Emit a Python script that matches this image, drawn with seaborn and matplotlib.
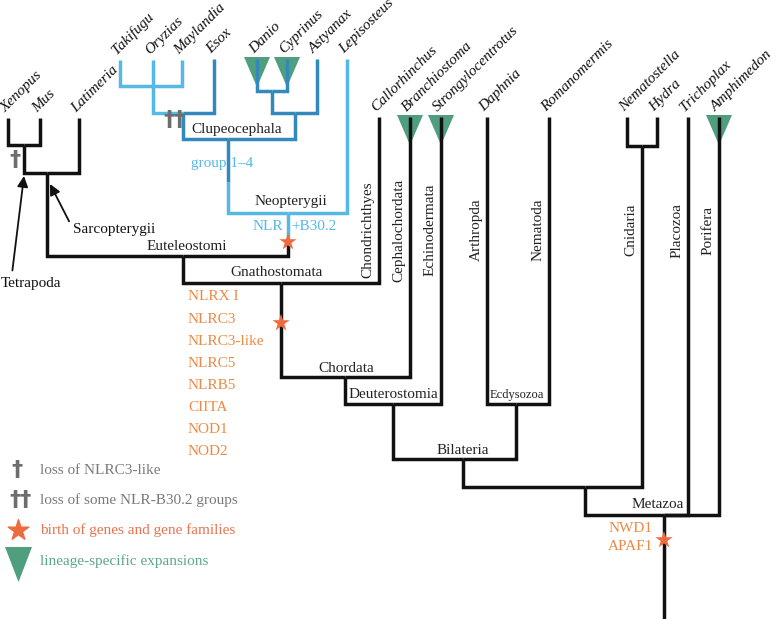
import pandas as pd
import seaborn as sns
import matplotlib.pyplot as plt

sns.set_theme(style="white")
plt.rcParams["font.family"] = ["Liberation Serif", "DejaVu Sans"]

# ------------------------------------------------------------------
# tree: node name, column (x), depth (y, pixels from the top), parent
# ------------------------------------------------------------------
node_name = ["root", "Metazoa", "Eumetazoa", "Trichoplax", "Amphimedon",
             "Bilateria", "Cnidaria", "Nematostella", "Hydra",
             "Deuterostomia", "Ecdysozoa", "Daphnia", "Romanomermis",
             "Chordata", "Strongylocentrotus", "Gnathostomata", "Branchiostoma",
             "Euteleostomi", "Callorhinchus", "Sarcopterygii", "Tetrapoda",
             "Xenopus", "Mus", "Latimeria",
             "NLR-B30.2", "Neopterygii", "Lepisosteus", "group 1-4", "Clupeocephala",
             "Euteleostei", "Esox", "Acanthomorpha", "Takifugu", "Oryzias", "Maylandia",
             "Otomorpha", "Cyprinidae", "Danio", "Cyprinus", "Astyanax"]
node_x = [664, 664, 585, 688, 719,
          463, 642, 627, 657,
          393, 516, 487, 549,
          345, 441, 281, 410,
          183, 379, 47, 24,
          8, 40, 79,
          288, 288, 347, 228, 228,
          183, 214, 153, 120, 153, 182,
          295, 272, 257, 287, 317]
node_y = [619, 515, 487, 117, 117,
          459, 146, 117, 117,
          404, 404, 117, 117,
          377, 117, 283, 117,
          256, 117, 173, 145,
          118, 118, 118,
          240, 213, 59, 182, 139,
          113, 59, 86, 60, 60, 60,
          113, 91, 59, 59, 59]
node_parent = [None, "root", "Metazoa", "Metazoa", "Metazoa",
               "Eumetazoa", "Eumetazoa", "Cnidaria", "Cnidaria",
               "Bilateria", "Bilateria", "Ecdysozoa", "Ecdysozoa",
               "Deuterostomia", "Deuterostomia", "Chordata", "Chordata",
               "Gnathostomata", "Gnathostomata", "Euteleostomi", "Sarcopterygii",
               "Tetrapoda", "Tetrapoda", "Sarcopterygii",
               "Euteleostomi", "NLR-B30.2", "Neopterygii", "Neopterygii", "group 1-4",
               "Clupeocephala", "Euteleostei", "Euteleostei", "Acanthomorpha",
               "Acanthomorpha", "Acanthomorpha",
               "Clupeocephala", "Otomorpha", "Cyprinidae", "Cyprinidae", "Otomorpha"]
node_lineage = ["other"] * 25 + ["neo", "neo", "neo", "clupeo",
                                 "clupeo", "clupeo", "neo", "neo", "neo", "neo",
                                 "clupeo", "clupeo", "clupeo", "clupeo", "clupeo"]

# clades named on their node (horizontal) and on their branch (vertical)
node_labels = ["Clupeocephala", "Neopterygii", "Euteleostomi", "Gnathostomata",
               "Chordata", "Deuterostomia", "Ecdysozoa", "Bilateria", "Metazoa"]
branch_label_node = ["Callorhinchus", "Branchiostoma", "Strongylocentrotus", "Daphnia",
                     "Romanomermis", "Cnidaria", "Trichoplax", "Amphimedon"]
branch_label_text = ["Chondrichthyes", "Cephalochordata", "Echinodermata", "Arthropda",
                     "Nematoda", "Cnidaria", "Placozoa", "Porifera"]

# events on branches
expansion_tips = ["Danio", "Cyprinus", "Branchiostoma", "Strongylocentrotus", "Amphimedon"]
birth_branch = ["Neopterygii", "Gnathostomata", "Metazoa"]
birth_depth = [242, 323, 540]
gnathostome_genes = ["NLRX I", "NLRC3", "NLRC3-like", "NLRC5", "NLRB5", "CIITA", "NOD1", "NOD2"]
metazoan_genes = ["NWD1", "APAF1"]
loss_branch = ["Tetrapoda", "Euteleostei"]
loss_depth = [160, 120]
loss_symbol = ["\u2020", "\u2020\u2020"]

legend_items = ["loss of NLRC3-like", "loss of some NLR-B30.2 groups",
                "birth of genes and gene families", "lineage-specific expansions"]

# colours
BLACK = "#111111"
LIGHT = "#55b8e6"
DARK = "#3389bb"
GREEN = "#4f9f7e"
ORANGE = "#ec8a45"
STAR = "#ee6a3f"
GREY = "#6d6d6d"

nodes = pd.DataFrame({"name": node_name, "x": node_x, "y": node_y,
                      "parent": node_parent, "lineage": node_lineage}).set_index("name")

# elbow edges child -> parent
rows = []
for i, (name, n) in enumerate(nodes.iterrows()):
    if n.parent is None:
        continue
    p = nodes.loc[n.parent]
    for k, (ex, ey) in enumerate([(n.x, n.y), (n.x, p.y), (p.x, p.y)]):
        rows.append({"edge": i, "k": k, "x": ex, "y": ey, "lineage": n.lineage})
edges = pd.DataFrame(rows)

fig = plt.figure(figsize=(7.8, 6.19), dpi=100)
ax = fig.add_axes([0, 0, 1, 1])

sns.lineplot(data=edges, x="x", y="y", hue="lineage", units="edge", estimator=None,
             sort=False, hue_order=["other", "neo", "clupeo"],
             palette={"other": BLACK, "neo": LIGHT, "clupeo": DARK},
             lw=2.5, legend=False, ax=ax, zorder=2,
             solid_joinstyle="miter", solid_capstyle="butt")

# lineage-specific expansions
for t in expansion_tips:
    n = nodes.loc[t]
    ax.fill([n.x - 13, n.x + 13, n.x], [n.y - 2, n.y - 2, n.y + 28],
            color=GREEN, lw=0, zorder=1)

# tip names
is_parent = set(nodes.parent.dropna())
for name, n in nodes.iterrows():
    if name in is_parent:
        continue
    ax.text(n.x - 3, n.y - 5, name, rotation=45, rotation_mode="anchor",
            ha="left", va="baseline", style="italic", fontsize=11, color=BLACK)

# clade names on nodes
label_offset = {"Clupeocephala": (9, -9), "Neopterygii": (3, -11), "Euteleostomi": (4, -10),
                "Gnathostomata": (-4, -10), "Chordata": (1, -9), "Deuterostomia": (0, -10),
                "Ecdysozoa": (1, -9), "Bilateria": (0, -9), "Metazoa": (-6, -10)}
for c in node_labels:
    n = nodes.loc[c]
    dx, dy = label_offset[c]
    ax.text(n.x + dx, n.y + dy, c, ha="center", va="center",
            fontsize=9 if c == "Ecdysozoa" else 11, color="#222222")

# clade names along branches
for nd, txt in zip(branch_label_node, branch_label_text):
    n = nodes.loc[nd]
    ax.text(n.x - 11, 230, txt, rotation=90, ha="center", va="center",
            fontsize=11, color="#222222")

# births of genes
bx = [nodes.loc[b].x for b in birth_branch]
sns.scatterplot(x=bx, y=birth_depth, marker="*", s=170, color=STAR,
                edgecolor="none", ax=ax, zorder=4)
for i, gene in enumerate(gnathostome_genes):
    ax.text(188, 297 + i * 22.1, gene, ha="left", va="center", fontsize=11, color=ORANGE)
m = nodes.loc["Metazoa"]
for i, gene in enumerate(metazoan_genes):
    ax.text(m.x - 11, 529 + i * 17, gene, ha="right", va="center", fontsize=11, color=ORANGE)
nb = nodes.loc["Neopterygii"]
ax.text(nb.x - 5, 227, "NLR", ha="right", va="center", fontsize=11, color=LIGHT)
ax.text(nb.x + 3, 227, "+B30.2", ha="left", va="center", fontsize=11, color=LIGHT)
ax.text(222, 163, "group 1\u20134", ha="center", va="center", fontsize=11, color=LIGHT)

# losses
for b, d, s in zip(loss_branch, loss_depth, loss_symbol):
    n = nodes.loc[b]
    ax.text(n.x - 9, d, s, ha="center", va="center", fontsize=16,
            fontweight="bold", color=GREY, family="DejaVu Sans")

# arrows
t = nodes.loc["Tetrapoda"]
ax.annotate("Tetrapoda", xy=(t.x, t.y + 31), xytext=(31, 283), ha="center", va="center",
            fontsize=11, color=BLACK,
            arrowprops=dict(arrowstyle="-|>", color=BLACK, lw=1.3, relpos=(0.18, 1.0),
                            shrinkA=2, shrinkB=0, mutation_scale=16))
s = nodes.loc["Sarcopterygii"]
ax.annotate("Sarcopterygii", xy=(s.x + 3, s.y + 11), xytext=(73, 229), ha="left", va="center",
            fontsize=11, color=BLACK,
            arrowprops=dict(arrowstyle="-|>", color=BLACK, lw=1.3, relpos=(0.0, 0.5),
                            shrinkA=1, shrinkB=0, mutation_scale=16))

# legend
ax.text(17, 470, loss_symbol[0], ha="center", va="center", fontsize=16,
        fontweight="bold", color=GREY, family="DejaVu Sans")
ax.text(20, 500, loss_symbol[1], ha="center", va="center", fontsize=16,
        fontweight="bold", color=GREY, family="DejaVu Sans")
ax.scatter([18], [530], marker="*", s=240, color=STAR, zorder=4)
ax.fill([5, 32, 18.5], [547, 547, 582], color=GREEN, lw=0)
legend_colors = ["#7a7a7a", "#7a7a7a", "#e8734f", "#5aa985"]
for i, (txt, col) in enumerate(zip(legend_items, legend_colors)):
    ax.text(40, [470, 500, 530, 561][i], txt, ha="left", va="center", fontsize=11, color=col)

ax.set_xlim(0, 780)
ax.set_ylim(619, 0)
ax.axis("off")
fig.savefig("out.png", dpi=100)
